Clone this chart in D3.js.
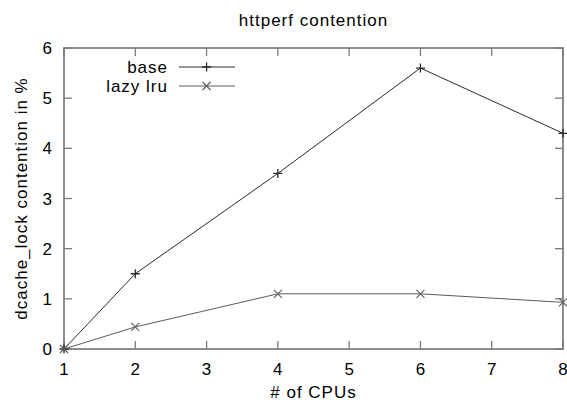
<!DOCTYPE html>
<meta charset="utf-8">
<style>
body { margin: 0; background: #fff; }
svg { display: block; }
text { font-family: "Liberation Sans", Arial, sans-serif; fill: #000; font-size: 17px; letter-spacing: 1px; }
.border { fill: none; stroke: #7a7a7a; stroke-width: 1.7px; }
.series { fill: none; stroke-width: 1px; }
</style>
<svg></svg>
<script src="https://cdn.jsdelivr.net/npm/d3@7/dist/d3.min.js"></script>
<script>

var cpus = [1, 2, 4, 6, 8];
var baseValues = [0, 1.5, 3.5, 5.6, 4.3];
var lazyLruValues = [0, 0.44, 1.1, 1.1, 0.93];
var xTicks = [1, 2, 3, 4, 5, 6, 7, 8];
var yTicks = [0, 1, 2, 3, 4, 5, 6];

var width = 567, height = 404;
var margin = {top: 48, right: 4, bottom: 55, left: 64};

var svg = d3.select("svg")
    .attr("width", width)
    .attr("height", height);

var x = d3.scaleLinear().domain([1, 8]).range([margin.left, width - margin.right]);
var y = d3.scaleLinear().domain([0, 6]).range([height - margin.bottom, margin.top]);

var tickLen = 8;

// ticks on all four sides, pointing inward
var g = svg.append("g");
xTicks.forEach(function(t) {
  g.append("line").attr("class", "tk")
    .attr("x1", x(t)).attr("x2", x(t))
    .attr("y1", y(0)).attr("y2", y(0) - tickLen);
  g.append("line").attr("class", "tk")
    .attr("x1", x(t)).attr("x2", x(t))
    .attr("y1", y(6)).attr("y2", y(6) + tickLen);
  svg.append("text")
    .attr("x", x(t) + 0.5).attr("y", y(0) + 26)
    .attr("text-anchor", "middle")
    .text(t);
});
yTicks.forEach(function(t) {
  g.append("line").attr("class", "tk")
    .attr("x1", x(1)).attr("x2", x(1) + tickLen)
    .attr("y1", y(t)).attr("y2", y(t));
  g.append("line").attr("class", "tk")
    .attr("x1", x(8)).attr("x2", x(8) - tickLen)
    .attr("y1", y(t)).attr("y2", y(t));
  svg.append("text")
    .attr("x", x(1) - 11).attr("y", y(t) + 6)
    .attr("text-anchor", "end")
    .text(t);
});
g.selectAll("line.tk").attr("stroke", "#7a7a7a").attr("stroke-width", 1.3);

svg.append("rect").attr("class", "border")
  .attr("x", x(1)).attr("y", y(6))
  .attr("width", x(8) - x(1)).attr("height", y(0) - y(6));

var line = d3.line()
  .x(function(d) { return x(d[0]); })
  .y(function(d) { return y(d[1]); });

function plus(sel, cx, cy, color) {
  var s = 4.5;
  sel.append("path")
    .attr("d", "M" + (cx - s) + "," + cy + "H" + (cx + s) + "M" + cx + "," + (cy - s) + "V" + (cy + s))
    .attr("stroke", color).attr("stroke-width", 1.3).attr("fill", "none");
}
function cross(sel, cx, cy, color) {
  var s = 4;
  sel.append("path")
    .attr("d", "M" + (cx - s) + "," + (cy - s) + "L" + (cx + s) + "," + (cy + s) +
               "M" + (cx - s) + "," + (cy + s) + "L" + (cx + s) + "," + (cy - s))
    .attr("stroke", color).attr("stroke-width", 1.1).attr("fill", "none");
}

var series = [
  {name: "base", values: baseValues, color: "#2a2a2a", marker: plus},
  {name: "lazy lru", values: lazyLruValues, color: "#5c5c5c", marker: cross}
];

series.forEach(function(s, i) {
  var pts = cpus.map(function(c, j) { return [c, s.values[j]]; });
  svg.append("path").attr("class", "series")
    .attr("d", line(pts))
    .attr("stroke", s.color);
  pts.forEach(function(p) { s.marker(svg, x(p[0]), y(p[1]), s.color); });

  // legend
  var ly = 67 + i * 19;
  svg.append("text")
    .attr("x", 168).attr("y", ly + 6)
    .attr("text-anchor", "end")
    .text(s.name);
  svg.append("line")
    .attr("x1", 179).attr("x2", 235)
    .attr("y1", ly).attr("y2", ly)
    .attr("stroke", s.color).attr("stroke-width", 1);
  s.marker(svg, x(3), ly, s.color);
});

svg.append("text")
  .attr("x", (x(1) + x(8)) / 2).attr("y", 26)
  .attr("text-anchor", "middle")
  .text("httperf contention");

svg.append("text")
  .attr("x", (x(1) + x(8)) / 2).attr("y", 398)
  .attr("text-anchor", "middle")
  .text("# of CPUs");

svg.append("text")
  .attr("transform", "translate(27," + ((y(0) + y(6)) / 2) + ") rotate(-90)")
  .attr("text-anchor", "middle")
  .text("dcache_lock contention in %");

</script>
